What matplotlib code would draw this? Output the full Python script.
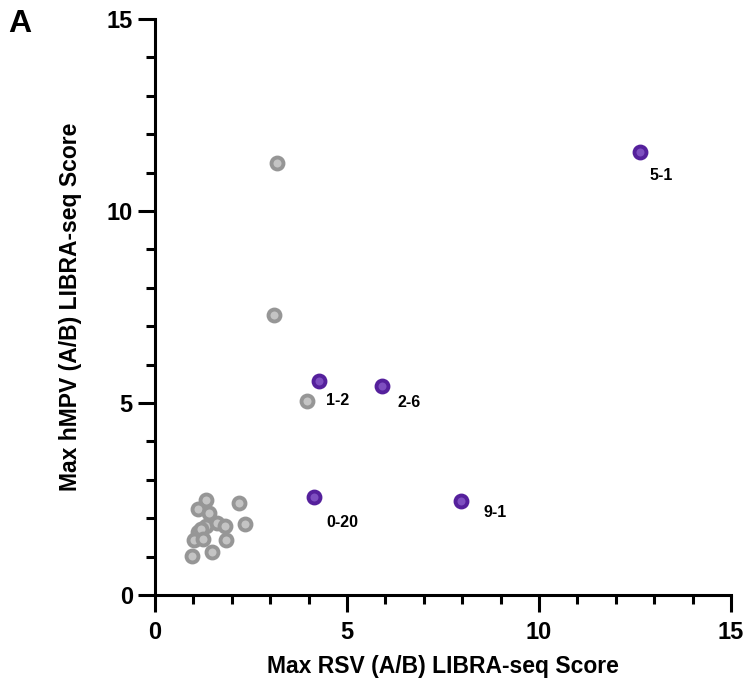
import numpy as np
import matplotlib
matplotlib.use("Agg")
import matplotlib.pyplot as plt

plt.rcParams["font.family"] = ["Liberation Sans", "DejaVu Sans"]
plt.rcParams["font.weight"] = "bold"

# gray (unlabelled) antibodies
rsv_gray = [3.18, 3.10, 3.96, 1.32, 1.13, 1.41, 2.19, 2.34, 1.32, 1.61, 1.82,
            1.11, 1.20, 1.02, 1.26, 1.84, 1.48, 0.97]
hmpv_gray = [11.25, 7.29, 5.05, 2.47, 2.23, 2.14, 2.40, 1.84, 1.80, 1.87, 1.80,
             1.65, 1.72, 1.43, 1.45, 1.43, 1.13, 1.02]

# highlighted antibodies
names = ["5-1", "1-2", "2-6", "0-20", "9-1"]
rsv_sel = [12.63, 4.27, 5.91, 4.14, 7.97]
hmpv_sel = [11.54, 5.57, 5.44, 2.55, 2.45]

# label offsets in points (dx, dy)
offsets = [(7, -17), (5, -14), (11, -12), (9, -18), (16, -8)]

fig = plt.figure(figsize=(7.44, 6.87), dpi=100)
ax = fig.add_axes([155 / 744, 1 - 595 / 687, 576 / 744, 576 / 687])

ax.plot(rsv_gray, hmpv_gray, "o", ms=8.6, mfc="#c4c4c4", mec="#969696",
        mew=2.8, clip_on=False, zorder=3)
ax.plot(rsv_sel, hmpv_sel, "o", ms=8.6, mfc="#7e4fc0", mec="#55209c",
        mew=2.8, clip_on=False, zorder=4)

for n, x, y, (dx, dy) in zip(names, rsv_sel, hmpv_sel, offsets):
    ax.annotate(n, (x, y), xytext=(dx, dy), textcoords="offset points",
                fontsize=11.5, fontweight="bold", ha="left", va="center")

ax.set_xlim(0, 15)
ax.set_ylim(0, 15)
ax.set_xticks([0, 5, 10, 15])
ax.set_yticks([0, 5, 10, 15])
ax.set_xticks(np.arange(0, 16, 1), minor=True)
ax.set_yticks(np.arange(0, 16, 1), minor=True)

for s in ["top", "right"]:
    ax.spines[s].set_visible(False)
for s in ["left", "bottom"]:
    ax.spines[s].set_linewidth(2.2)
    ax.spines[s].set_capstyle("projecting")

ax.tick_params(which="major", length=12, width=2.2, labelsize=17)
ax.tick_params(which="minor", length=6.5, width=2.2)
ax.tick_params(axis="y", which="major", pad=4)
ax.tick_params(axis="x", which="major", pad=7)
for lab in ax.get_xticklabels() + ax.get_yticklabels():
    lab.set_fontweight("bold")

ax.set_xlabel("Max RSV (A/B) LIBRA-seq Score", fontsize=16.5,
              fontweight="bold", labelpad=7.5)
ax.set_ylabel("Max hMPV (A/B) LIBRA-seq Score", fontsize=16.5,
              fontweight="bold", labelpad=17.5)

fig.text(20 / 744, 1 - 24 / 687, "A", fontsize=23, fontweight="bold",
         ha="center", va="center")

fig.savefig("out.png", dpi=100)
